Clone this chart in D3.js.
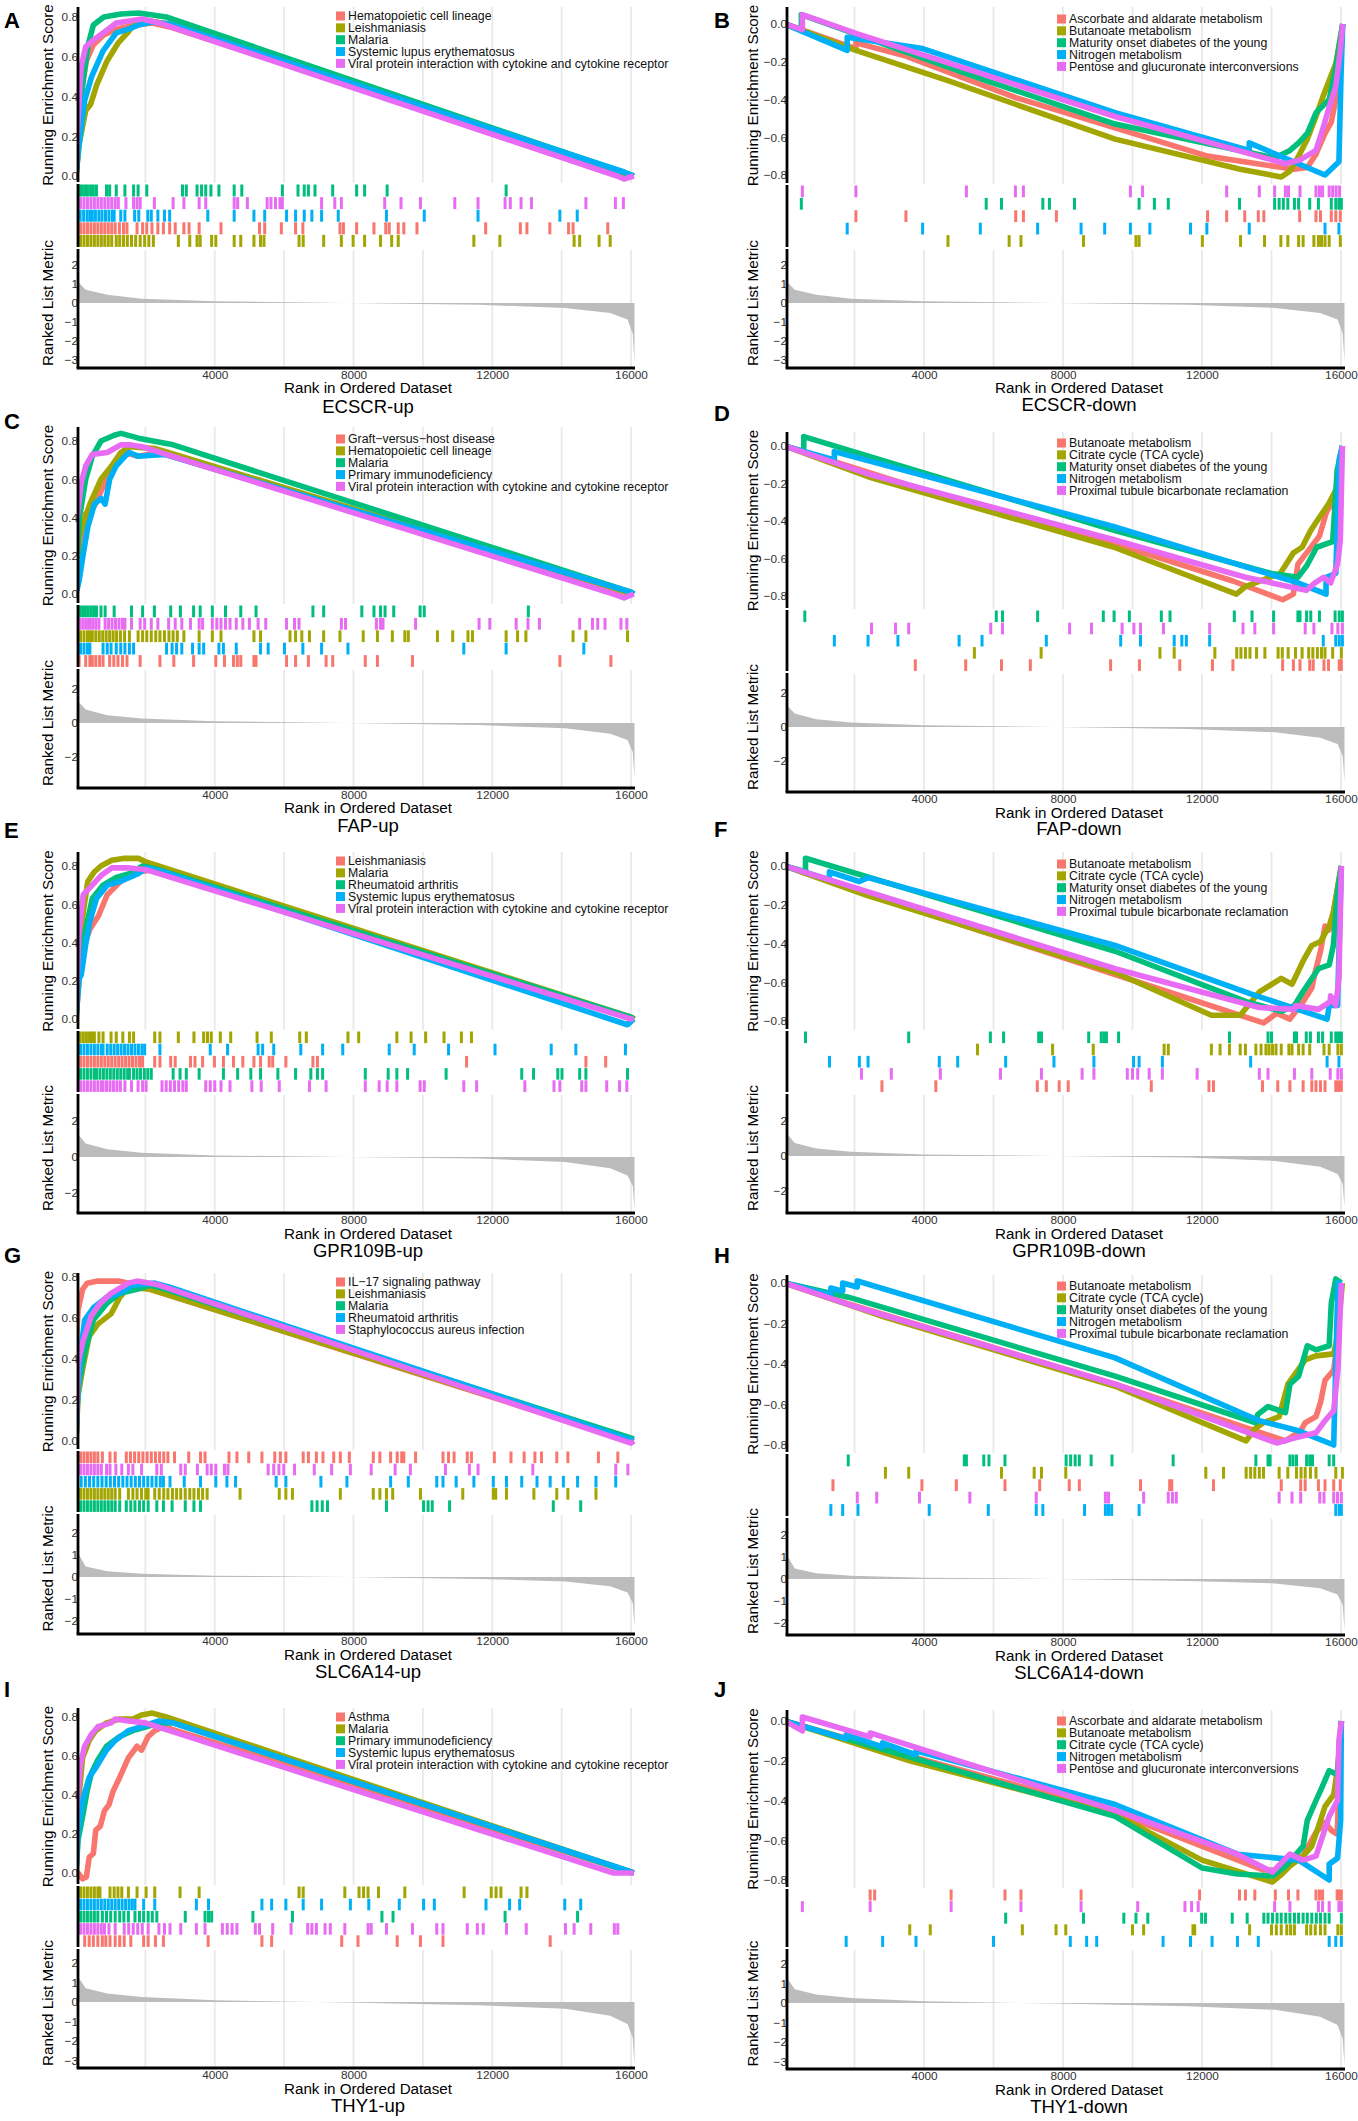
<!DOCTYPE html>
<html>
<head>
<meta charset="utf-8">
<script src="https://cdn.jsdelivr.net/npm/d3@7"></script>
<style>
  body { margin: 0; background: #fff; }
  #viz { width: 1358px; height: 2121px; }
</style>
</head>
<body>
<div id="viz"></div>
<script>
// ggplot default hue palette, one colour per gene set (in legend order)
const hue = ["#F8766D", "#A3A500", "#00BF7D", "#00B0F6", "#E76BF3"];

const rankTicks = [4000, 8000, 12000, 16000];
const gridRanks = [2000, 4000, 6000, 8000, 10000, 12000, 14000, 16000];
const esTicksUp = [0, 0.2, 0.4, 0.6, 0.8];
const esTicksDown = [-0.8, -0.6, -0.4, -0.2, 0];
const metTicksSix = [2, 1, 0, -1, -2, -3];
const metTicksFive = [2, 1, 0, -1, -2];
const metTicksThree = [2, 0, -2];

// ranked list metric (one per gene, shared by its up / down panels)
const metricECSCR = [[0,2.3],[40,1.5],[90,1.05],[280,0.7],[900,0.43],[1900,0.23],[4000,0.09],[7800,0],[11600,-0.09],[14100,-0.26],[15400,-0.52],[15900,-0.87],[16050,-1.6],[16100,-3.1]];
const metricFAP = [[0,2.35],[40,1.6],[90,1.2],[280,0.8],[900,0.46],[1900,0.27],[4000,0.1],[7800,0],[11600,-0.12],[14100,-0.31],[15400,-0.63],[15900,-1.0],[16050,-1.7],[16100,-3.2]];
const metricGPR109B = [[0,2.3],[40,1.6],[90,1.2],[280,0.75],[900,0.43],[1900,0.24],[4000,0.09],[7800,0],[11600,-0.09],[14100,-0.28],[15400,-0.62],[15900,-1.03],[16050,-1.6],[16100,-2.9]];
const metricSLC6A14 = [[0,1.85],[40,1.3],[90,1.0],[280,0.48],[900,0.26],[1900,0.15],[4000,0.06],[7800,0],[11600,-0.09],[14100,-0.2],[15400,-0.42],[15900,-0.7],[16050,-1.18],[16100,-2.3]];
const metricTHY1 = [[0,2.5],[40,1.6],[90,1.2],[280,0.7],[900,0.43],[1900,0.26],[4000,0.09],[7800,-0.03],[11600,-0.17],[14100,-0.35],[15400,-0.7],[15900,-1.13],[16050,-1.83],[16100,-3.2]];

// ---- A: ECSCR-up
const setsA = ["Hematopoietic cell lineage", "Leishmaniasis", "Malaria", "Systemic lupus erythematosus", "Viral protein interaction with cytokine and cytokine receptor"];
const esA = [
  [[0,0],[60,0.2],[150,0.42],[300,0.58],[500,0.66],[800,0.71],[1200,0.74],[1700,0.76],[2200,0.77],[2700,0.75],[16000,0.0],[16080,0]],
  [[0,0],[90,0.16],[280,0.33],[420,0.36],[600,0.46],[900,0.58],[1220,0.67],[1480,0.72],[1660,0.76],[2100,0.78],[2700,0.765],[16080,0]],
  [[0,0],[90,0.3],[220,0.5],[350,0.66],[500,0.76],[800,0.8],[1300,0.815],[1800,0.82],[2600,0.8],[16080,0]],
  [[0,0],[90,0.16],[250,0.38],[450,0.5],[780,0.63],[1160,0.72],[1540,0.74],[1800,0.76],[2200,0.775],[2700,0.765],[15800,0.02],[16080,0]],
  [[0,0],[30,0.2],[90,0.38],[150,0.55],[280,0.65],[470,0.68],[780,0.72],[1160,0.77],[1540,0.78],[1900,0.79],[2400,0.77],[15600,0.0],[15800,-0.015],[16080,0]]
];
const hitsA = [
  [30,130,230,330,430,530,630,730,830,930,1030,1130,1250,1370,1470,1760,1920,2040,2190,2360,2520,2700,2860,3110,3260,3550,4180,5290,5440,5920,6330,6540,7610,7710,8090,8590,8930,9030,9290,9450,9830,11810,12810,13000,13660,14200,14330,15330],
  [30,130,230,330,430,530,630,730,830,930,1030,1160,1260,1370,1480,1600,1720,1850,1980,2100,2230,2950,3280,3490,3580,3910,4030,4560,4750,5130,5320,5420,6430,6550,7140,7650,7990,8320,8780,9100,9290,11470,12220,14360,14520,15080,15400],
  [30,100,170,250,330,420,500,590,880,970,1160,1410,1660,1790,2040,3070,3180,3490,3620,3740,3890,4120,4560,4780,5950,6400,6580,6700,6890,7400,8090,8320,8970,12400],
  [30,120,220,320,400,470,560,660,750,850,950,1050,1100,1290,1410,1690,1810,2070,2170,2360,2550,2700,3800,4560,5130,5440,6070,6330,6580,6800,7080,7560,8950,10040,11590,13950,14450],
  [30,130,230,330,430,530,630,730,830,930,1030,1130,1220,1440,1660,1760,1850,2260,2800,3110,3550,3740,4560,4660,4940,5510,5620,5750,5880,5950,7080,7460,7650,8900,9370,9930,10920,11590,12370,12520,12830,13130,14700,15550,15780]
];

// ---- B: ECSCR-down
const setsB = ["Ascorbate and aldarate metabolism", "Butanoate metabolism", "Maturity onset diabetes of the young", "Nitrogen metabolism", "Pentose and glucuronate interconversions"];
const esB = [
  [[0,0],[2040,-0.13],[2040,-0.1],[3480,-0.17],[6640,-0.39],[12160,-0.7],[14650,-0.77],[15030,-0.76],[15280,-0.69],[15540,-0.58],[15720,-0.52],[15850,-0.4],[15980,-0.14],[16050,0]],
  [[0,0],[2040,-0.14],[4690,-0.3],[9500,-0.61],[13100,-0.77],[14280,-0.81],[14530,-0.78],[14780,-0.7],[15030,-0.61],[15280,-0.49],[15470,-0.39],[15660,-0.3],[15850,-0.21],[16050,0]],
  [[0,0],[470,-0.03],[470,0.05],[5790,-0.3],[9500,-0.53],[14090,-0.71],[14530,-0.67],[14780,-0.63],[15030,-0.58],[15280,-0.47],[15660,-0.4],[15850,-0.23],[16050,0]],
  [[0,0],[1790,-0.14],[1790,-0.07],[3960,-0.13],[9500,-0.47],[13360,-0.67],[13360,-0.63],[15540,-0.8],[15940,-0.73],[16000,-0.28],[16050,0]],
  [[0,0],[500,-0.03],[500,0.05],[2040,-0.05],[9500,-0.49],[14400,-0.74],[14820,-0.72],[15280,-0.67],[15470,-0.56],[15660,-0.44],[15850,-0.33],[15980,-0.14],[16050,0]]
];
const hitsB = [
  [2040,3480,6640,6860,7810,12160,12710,13230,13620,13780,14810,15280,15410,15720,15850,15980],
  [4690,6450,6790,8590,10100,10190,12010,13110,13800,14270,14470,14780,14910,15220,15350,15440,15540,15660,15980],
  [470,5790,6230,7420,7610,8330,10190,10630,11030,13080,14090,14220,14340,14470,14660,14780,15100,15350,15720,15850,15940,16010],
  [1790,3960,5620,7270,8520,9200,9940,10500,11670,12140,13360,15540,15940],
  [500,2040,5220,6630,6860,9940,10290,12710,13650,14090,14400,14490,14820,15280,15380,15470,15660,15760,15860,15960]
];

// ---- C: FAP-up
const setsC = ["Graft\u2212versus\u2212host disease", "Hematopoietic cell lineage", "Malaria", "Primary immunodeficiency", "Viral protein interaction with cytokine and cytokine receptor"];
const esC = [
  [[0,0],[100,0.25],[280,0.42],[530,0.46],[780,0.56],[1030,0.65],[1410,0.74],[1790,0.72],[2400,0.74],[16000,0.0],[16080,0]],
  [[0,0],[90,0.3],[400,0.47],[720,0.6],[1030,0.67],[1290,0.74],[1540,0.77],[2300,0.76],[16080,0]],
  [[0,0],[90,0.39],[280,0.6],[470,0.72],[720,0.8],[1100,0.83],[1300,0.84],[1800,0.815],[2800,0.78],[16000,0.01],[16080,0]],
  [[0,0],[90,0.07],[210,0.21],[340,0.35],[530,0.47],[720,0.5],[840,0.47],[970,0.6],[1160,0.67],[1410,0.72],[1540,0.74],[1800,0.72],[2550,0.73],[16000,0.01],[16080,0]],
  [[0,0],[25,0.39],[150,0.58],[280,0.67],[470,0.73],[900,0.74],[1290,0.78],[1540,0.78],[1900,0.77],[15500,0.0],[15800,-0.02],[16080,0]]
];
const hitsC = [
  [90,280,400,470,570,680,780,970,1090,1210,1340,1470,1850,2420,2820,3390,4030,4280,4540,4650,4750,5130,5190,6070,6330,6700,7210,7400,8340,8690,9700,13950,15420],
  [30,130,230,330,400,470,570,670,770,870,970,1070,1170,1280,1400,1540,1790,1920,2040,2170,2300,2420,2550,2680,2800,2920,3110,3550,3930,4180,5130,5320,6170,6330,6510,6730,7140,7610,8280,8690,9120,9480,9580,10420,10860,11300,11430,12400,12730,12970,14330,14700,15900],
  [30,110,190,270,350,430,510,590,720,840,1100,1600,1920,2260,2730,3010,3390,3580,3930,4310,4750,5190,6830,7140,8240,8590,8780,8910,9160,9920,10040,13040],
  [30,130,230,330,400,780,900,1010,1160,1290,1410,1540,1660,2610,2770,2900,3050,3360,3550,3680,4120,4250,4620,5320,5540,6010,6540,7080,7840,11180,12400,14640],
  [30,120,210,300,390,480,570,660,840,940,1040,1140,1240,1340,1410,1600,1850,1980,2170,2360,2670,2860,3050,3300,3550,3650,3930,4060,4180,4310,4440,4620,4810,5000,5250,5470,6070,6300,6430,7650,7770,8660,8780,8850,9790,11620,11930,12690,13030,13360,14520,14890,15040,15250,15710,15880]
];

// ---- D: FAP-down
const setsD = ["Butanoate metabolism", "Citrate cycle (TCA cycle)", "Maturity onset diabetes of the young", "Nitrogen metabolism", "Proximal tubule bicarbonate reclamation"];
const esD = [
  [[0,0],[3750,-0.22],[9470,-0.52],[12890,-0.72],[14320,-0.82],[14630,-0.79],[14760,-0.63],[15010,-0.57],[15380,-0.48],[15570,-0.36],[15700,-0.31],[15900,-0.35],[16040,0]],
  [[0,0],[2490,-0.17],[9470,-0.54],[12990,-0.79],[13250,-0.75],[14250,-0.68],[14630,-0.57],[14880,-0.54],[15130,-0.45],[15380,-0.38],[15640,-0.31],[15890,-0.22],[16040,0]],
  [[0,0],[540,-0.03],[540,0.05],[6260,-0.27],[9470,-0.45],[14000,-0.68],[14760,-0.7],[15010,-0.64],[15300,-0.54],[15760,-0.51],[15890,-0.13],[16040,0]],
  [[0,0],[1420,-0.075],[1420,-0.03],[9470,-0.43],[14760,-0.73],[15570,-0.79],[15570,-0.7],[15850,-0.68],[15950,-0.07],[16040,0]],
  [[0,0],[2490,-0.155],[9470,-0.5],[13250,-0.7],[15000,-0.77],[15250,-0.73],[15500,-0.7],[15700,-0.73],[15900,-0.63],[15980,-0.5],[16040,0]]
];
const hitsD = [
  [3750,5200,6230,7060,9370,10200,11360,12300,12890,14320,14630,14820,15100,15200,15510,15640,15950,16010],
  [5450,7370,10790,11200,12370,13000,13120,13250,13380,13570,13810,14190,14310,14480,14690,14880,15070,15190,15320,15440,15540,15760,16010],
  [570,6080,6260,7270,9160,9470,9910,10830,11080,12930,13440,14060,14760,14820,15010,15130,15380,15830,15950,16040],
  [1420,2390,3250,5010,5670,7520,9660,10230,11200,11420,11550,12220,15490,15850,15950,16040],
  [2490,3180,3560,5920,6260,8190,8820,9700,10040,10230,10890,12220,13180,13520,14060,14970,15220,15740,15910,16040]
];

// ---- E: GPR109B-up
const setsE = ["Leishmaniasis", "Malaria", "Rheumatoid arthritis", "Systemic lupus erythematosus", "Viral protein interaction with cytokine and cytokine receptor"];
const esE = [
  [[0,0],[150,0.34],[400,0.47],[650,0.54],[900,0.65],[1290,0.72],[1790,0.77],[2300,0.78],[16080,0]],
  [[0,0],[90,0.39],[210,0.56],[340,0.72],[530,0.77],[720,0.8],[1030,0.83],[1400,0.84],[1800,0.84],[2040,0.82],[16000,0.01],[16100,0]],
  [[0,0],[90,0.3],[280,0.47],[470,0.63],[780,0.7],[1160,0.74],[1540,0.76],[1920,0.8],[2400,0.78],[16000,0.01],[16080,0]],
  [[0,0],[90,0.21],[150,0.23],[280,0.39],[400,0.51],[590,0.63],[900,0.7],[1290,0.72],[1540,0.74],[1790,0.76],[2040,0.79],[2500,0.77],[15900,-0.03],[16080,0]],
  [[0,0],[30,0.21],[90,0.46],[210,0.65],[470,0.7],[720,0.75],[1030,0.79],[1540,0.79],[2040,0.78],[16000,0.0],[16080,0]]
];
const hitsE = [
  [30,130,230,330,430,530,630,730,830,930,1030,1130,1230,1330,1430,1530,1630,1730,1830,1920,2270,2420,2730,2860,3300,3430,3650,3990,4250,4540,4810,5130,5320,5570,5670,6050,6830,6960,11260,14700,15270],
  [30,120,210,300,390,470,530,660,780,1010,1160,1350,1540,1660,2270,2420,2950,3400,3680,3790,3900,4160,4460,5220,5630,6450,6640,7840,8150,9250,9660,10080,10610,11110,11400],
  [30,130,230,330,430,530,590,690,790,890,990,1090,1190,1290,1390,1490,1540,1660,1760,1860,1970,2070,2170,2800,3000,3180,3550,4250,4660,5040,5320,5820,6330,6770,6960,7110,8340,9000,9250,9560,10670,12850,13190,13890,14010,14520,14700,15900],
  [30,130,230,330,430,530,630,730,780,900,1000,1100,1200,1300,1400,1500,1600,1700,1800,1900,1980,2420,3870,4370,5250,5380,5700,6480,7110,7690,9030,9750,10740,12080,13700,14410,15840],
  [30,130,230,330,430,530,630,730,780,880,980,1080,1180,1280,1410,1600,1790,1920,2020,2480,2600,2720,2840,2960,3080,3180,3740,3870,4000,4180,4440,5070,5340,5860,6730,7210,8340,8740,8970,9250,9920,10040,11180,11550,12940,13780,13950,14580,14700,15300,15670,15880]
];

// ---- F: GPR109B-down
const setsF = ["Butanoate metabolism", "Citrate cycle (TCA cycle)", "Maturity onset diabetes of the young", "Nitrogen metabolism", "Proximal tubule bicarbonate reclamation"];
const esF = [
  [[0,0],[2790,-0.17],[9500,-0.56],[13770,-0.81],[14150,-0.76],[14530,-0.79],[14910,-0.7],[15160,-0.63],[15280,-0.53],[15410,-0.44],[15540,-0.31],[15660,-0.33],[15780,-0.24],[16010,0]],
  [[0,0],[2330,-0.15],[9500,-0.55],[12270,-0.77],[13100,-0.77],[13650,-0.65],[14280,-0.58],[14590,-0.61],[14910,-0.49],[15160,-0.41],[15410,-0.39],[15660,-0.31],[15780,-0.24],[16010,0]],
  [[0,0],[590,-0.03],[590,0.04],[9500,-0.44],[13270,-0.7],[14280,-0.75],[14660,-0.72],[14900,-0.65],[15350,-0.53],[15660,-0.51],[15780,-0.41],[15900,-0.13],[16010,0]],
  [[0,0],[1280,-0.07],[1280,-0.03],[2140,-0.08],[2390,-0.06],[9500,-0.41],[13400,-0.66],[15600,-0.79],[15660,-0.72],[15900,-0.72],[16010,0]],
  [[0,0],[9500,-0.53],[13650,-0.73],[14660,-0.74],[14700,-0.72],[15350,-0.74],[15690,-0.7],[15700,-0.67],[15850,-0.72],[15940,-0.58],[16010,0]]
];
const hitsF = [
  [2790,4340,7260,7520,7890,8150,10540,12200,12330,13740,14180,14530,14910,15160,15280,15410,15540,15850,15930,16010],
  [5540,7700,8870,10910,11030,12270,12520,12790,13100,13250,13550,13700,13840,13930,14030,14130,14280,14500,14590,14780,14910,15100,15510,15660,15910,16010],
  [590,3560,5910,6290,7300,7380,8740,9100,9180,9250,9600,12790,13900,14000,14660,14720,15000,15120,15350,15470,15720,15850,15930,16010],
  [1280,2140,2390,4440,4970,6350,7740,8890,10030,10190,10860,13400,15600,15940],
  [2200,3060,4470,6200,7380,8550,8890,9850,10000,10150,10480,10860,11860,13650,13900,14660,15160,15690,15910,16010]
];

// ---- G: SLC6A14-up
const setsG = ["IL\u221217 signaling pathway", "Leishmaniasis", "Malaria", "Rheumatoid arthritis", "Staphylococcus aureus infection"];
const esG = [
  [[0,0],[25,0.51],[60,0.64],[190,0.74],[320,0.77],[630,0.78],[1260,0.78],[1510,0.77],[2140,0.74],[16000,0.0],[16080,0]],
  [[0,0],[60,0.22],[190,0.35],[380,0.51],[630,0.57],[1010,0.62],[1260,0.7],[1510,0.75],[2140,0.74],[16080,0]],
  [[0,0],[60,0.26],[250,0.43],[500,0.59],[880,0.67],[1260,0.72],[1760,0.74],[2140,0.76],[2600,0.74],[16080,0.01]],
  [[0,0],[25,0.15],[130,0.43],[250,0.59],[500,0.65],[880,0.7],[1260,0.72],[1640,0.76],[2270,0.77],[2700,0.75],[16080,0.0]],
  [[0,0],[60,0.38],[190,0.48],[440,0.61],[690,0.67],[1010,0.72],[1510,0.77],[1760,0.78],[2300,0.765],[16000,-0.01],[16080,0]]
];
const hitsG = [
  [30,130,230,330,430,530,630,760,980,1130,1450,1570,1690,1810,1930,2050,2170,2290,2410,2530,2650,2840,3250,3590,3720,4410,4640,4980,5360,5730,5890,6050,6550,6700,6930,7120,7430,7620,7880,8570,8760,9070,9260,9390,9450,9790,10580,10740,10900,11280,11400,12060,12540,12920,13230,13420,13860,14180,15060,15620],
  [30,130,230,330,430,530,630,730,830,930,1030,1130,1260,1510,1640,1760,1890,2010,2080,2270,2400,2530,2650,2780,2900,3020,3150,3280,3400,3530,3650,3780,4730,5860,6050,6240,7620,8570,8760,8950,9130,9930,11150,12030,12100,12410,13200,13860,14180,14990],
  [30,130,230,330,430,530,630,730,830,930,1030,1130,1260,1450,1580,1700,1830,1950,2080,2330,2520,2770,3150,3400,3590,6800,6950,7100,7250,8950,10020,10150,10270,10770,13760,14550],
  [30,150,270,390,510,630,750,870,990,1110,1230,1350,1470,1590,1710,1830,1950,2070,2190,2310,2430,2520,2710,3120,3590,4030,4350,4600,5770,6050,7060,7810,9070,9580,10400,10580,10960,11470,12030,12410,12850,13290,13670,14050,14460,14990,15560],
  [30,130,230,330,430,530,630,730,880,980,1150,1320,1510,1640,1890,2330,2460,3020,3150,3500,3780,3900,4030,4280,4380,5540,5700,5850,5990,6300,6870,7370,7910,8510,9200,9640,10650,11340,11590,13170,15560,15910]
];

// ---- H: SLC6A14-down
const setsH = ["Butanoate metabolism", "Citrate cycle (TCA cycle)", "Maturity onset diabetes of the young", "Nitrogen metabolism", "Proximal tubule bicarbonate reclamation"];
const esH = [
  [[0,0],[1380,-0.08],[9500,-0.5],[14400,-0.78],[14840,-0.73],[14970,-0.69],[15280,-0.66],[15410,-0.59],[15540,-0.48],[15790,-0.43],[15900,-0.28],[16000,0]],
  [[0,0],[2890,-0.17],[9500,-0.51],[13270,-0.78],[13520,-0.72],[13770,-0.69],[14220,-0.66],[14470,-0.5],[14970,-0.38],[15280,-0.36],[15790,-0.35],[15900,-0.26],[16040,0]],
  [[0,0],[1820,-0.07],[9500,-0.46],[13550,-0.69],[13600,-0.65],[13900,-0.61],[14400,-0.64],[14530,-0.5],[14780,-0.46],[15030,-0.31],[15280,-0.33],[15660,-0.31],[15720,-0.1],[15850,0.02],[16010,0]],
  [[0,0],[1320,-0.06],[1320,-0.025],[1660,-0.04],[1660,0.0],[2080,-0.02],[2080,0.01],[9500,-0.37],[13650,-0.68],[14780,-0.73],[15790,-0.8],[15910,0.0],[16010,0]],
  [[0,0],[2080,-0.12],[9500,-0.5],[14150,-0.79],[14780,-0.76],[15280,-0.74],[15540,-0.68],[15790,-0.63],[15910,-0.43],[16010,0]]
];
const hitsH = [
  [1380,3940,4930,6330,7330,8180,8470,10230,11070,11130,12330,14280,14840,14970,15350,15540,15790,15980],
  [2890,3560,6230,7170,7380,8080,12110,12620,13270,13400,13520,13650,13770,14220,14470,14720,14850,14970,15120,15280,15850,16040],
  [1820,5160,5220,5720,5870,6330,8090,8220,8350,8470,8810,9410,11170,13550,13900,13960,14530,14620,14720,15010,15100,15180,15660,15790],
  [1320,1660,2100,4150,5850,7230,7420,8620,9220,9310,9400,10190,15850,15950,16010],
  [2080,2640,3870,5320,7230,9220,9310,10320,11030,11150,11260,14220,14590,14840,15390,15510,15790,15900,16010]
];

// ---- I: THY1-up
const setsI = ["Asthma", "Malaria", "Primary immunodeficiency", "Systemic lupus erythematosus", "Viral protein interaction with cytokine and cytokine receptor"];
const esI = [
  [[0,0],[60,0.0],[190,-0.03],[300,-0.02],[380,0.08],[500,0.1],[570,0.22],[700,0.24],[820,0.32],[950,0.35],[1070,0.42],[1260,0.49],[1510,0.59],[1760,0.65],[1890,0.63],[2080,0.7],[2270,0.73],[2520,0.75],[16080,0]],
  [[0,0],[60,0.34],[190,0.59],[380,0.68],[570,0.73],[880,0.77],[1260,0.79],[1640,0.79],[1890,0.81],[2200,0.82],[2600,0.8],[16080,0]],
  [[0,0],[60,0.17],[190,0.29],[320,0.42],[440,0.51],[630,0.58],[880,0.65],[1260,0.7],[1640,0.73],[2020,0.75],[2400,0.77],[2800,0.77],[16080,0]],
  [[0,0],[60,0.22],[190,0.37],[380,0.49],[570,0.54],[880,0.63],[1130,0.68],[1510,0.73],[1890,0.75],[2390,0.78],[2800,0.77],[15600,0.03],[16080,0]],
  [[0,0],[25,0.34],[130,0.56],[250,0.65],[440,0.71],[630,0.75],[1010,0.77],[1130,0.79],[1510,0.78],[2000,0.77],[15500,0.0],[16080,0]]
];
const hitsI = [
  [250,380,500,630,760,860,980,1130,1260,1390,1580,1950,2080,2290,2520,3810,5360,5640,7660,8130,9260,9930,10580,13670],
  [30,130,230,330,430,530,630,690,980,1100,1210,1320,1510,1760,2020,2270,3000,3550,6430,6550,7750,8160,8290,8420,8720,9480,11190,11970,12110,12250,12830,13000],
  [30,130,230,330,430,530,630,760,880,1000,1130,1260,1380,1510,1700,1830,1950,2080,2200,2330,3150,3720,3820,3910,5100,6240,8820,9140,12370,14460],
  [30,130,230,330,430,530,630,730,830,930,1030,1130,1230,1330,1430,1530,1620,1700,1950,2270,3470,3820,5360,5640,6050,6550,7080,7910,8440,9320,10020,10330,11820,12500,12790,14090,14550],
  [30,130,230,330,430,530,630,730,820,950,1130,1390,1520,1650,1780,1910,2080,2390,2550,2710,3020,3470,3720,4220,4360,4500,4640,5170,5290,5670,6200,6680,6800,6930,7180,7330,7750,8420,8510,8950,9700,10400,10580,11280,11570,11740,12410,12980,14110,14360,14840,15520,15620]
];

// ---- J: THY1-down
const setsJ = ["Ascorbate and aldarate metabolism", "Butanoate metabolism", "Citrate cycle (TCA cycle)", "Nitrogen metabolism", "Pentose and glucuronate interconversions"];
const esJ = [
  [[0,0],[2450,-0.12],[9500,-0.46],[13770,-0.75],[14150,-0.75],[14530,-0.7],[14900,-0.68],[15280,-0.56],[15540,-0.51],[15720,-0.55],[15890,-0.57],[16010,0]],
  [[0,0],[3590,-0.2],[9500,-0.47],[12000,-0.7],[14030,-0.81],[14300,-0.77],[14530,-0.73],[14910,-0.68],[15160,-0.63],[15410,-0.5],[15540,-0.43],[15790,-0.37],[15910,-0.23],[16010,0]],
  [[0,0],[9500,-0.48],[12010,-0.74],[13020,-0.77],[14030,-0.78],[14400,-0.73],[14660,-0.68],[14910,-0.63],[15030,-0.5],[15280,-0.4],[15410,-0.35],[15660,-0.25],[15900,-0.27],[16010,0]],
  [[0,0],[1760,-0.09],[1760,-0.07],[2810,-0.13],[2810,-0.11],[3770,-0.17],[3770,-0.15],[9500,-0.42],[13020,-0.67],[14780,-0.7],[15660,-0.8],[15660,-0.72],[15900,-0.69],[15990,-0.5],[16010,0]],
  [[0,0],[500,-0.05],[500,0.02],[2450,-0.08],[2450,-0.06],[9500,-0.45],[13020,-0.67],[14030,-0.76],[14530,-0.67],[14900,-0.7],[15280,-0.68],[15660,-0.48],[15900,-0.4],[15940,-0.1],[16010,0]]
];
const hitsJ = [
  [2450,2580,4780,6330,6790,8520,11930,13080,13250,13520,14110,14490,14760,15280,15380,15470,15890,15950,16010],
  [3590,4180,6830,7800,8080,10000,10320,11740,11790,13370,14000,14140,14280,14440,14550,14660,15010,15130,15260,15410,15540,15910,16010],
  [6350,8590,9750,10100,10440,11990,12100,12870,13300,13780,13900,14030,14160,14280,14410,14530,14660,14780,14910,15030,15160,15290,15410,15540,15660,16010],
  [1760,2810,3770,6000,8210,8680,8970,10880,11670,12290,13020,13620,15660,15850,16010],
  [500,2450,4780,6790,8520,10150,11510,11700,11890,14090,14530,15350,15470,15660,15940,16010]
];

// ---- page geometry (pixels)
const cols = [
  { axisX: 78, x0: 76, x1: 631, letterX: 4, yTitleX: 48, legendX: 336, centerX: 368 },
  { axisX: 787, x0: 785, x1: 1341, letterX: 714, yTitleX: 753, legendX: 1057, centerX: 1079 }
];

const panels = [
  { letter: "A", title: "ECSCR-up", col: 0, sets: setsA, es: esA, hits: hitsA, metric: metricECSCR, esTicks: esTicksUp, metTicks: metTicksSix,
    top: 7, esBot: 183, hitBot: 248, axisY: 368, esRef: [[0.8, 17], [0, 176]], metRef: [[2, 265], [0, 303]],
    rankY: 388, titleY: 406, letterY: 28, legendY: 16, rows: [2, 4, 3, 0, 1] },
  { letter: "B", title: "ECSCR-down", col: 1, sets: setsB, es: esB, hits: hitsB, metric: metricECSCR, esTicks: esTicksDown, metTicks: metTicksSix,
    top: 7, esBot: 184, hitBot: 248, axisY: 368, esRef: [[0, 24], [-0.8, 175]], metRef: [[2, 265], [0, 303]],
    rankY: 388, titleY: 404, letterY: 28, legendY: 19, rows: [4, 2, 0, 3, 1] },
  { letter: "C", title: "FAP-up", col: 0, sets: setsC, es: esC, hits: hitsC, metric: metricFAP, esTicks: esTicksUp, metTicks: metTicksThree,
    top: 427, esBot: 604, hitBot: 668, axisY: 788, esRef: [[0.8, 441], [0, 594]], metRef: [[2, 689], [0, 723]],
    rankY: 808, titleY: 825, letterY: 429, legendY: 439, rows: [2, 4, 1, 3, 0] },
  { letter: "D", title: "FAP-down", col: 1, sets: setsD, es: esD, hits: hitsD, metric: metricFAP, esTicks: esTicksDown, metTicks: metTicksThree,
    top: 432, esBot: 609, hitBot: 672, axisY: 792, esRef: [[0, 446], [-0.8, 596]], metRef: [[2, 693], [0, 727]],
    rankY: 813, titleY: 828, letterY: 421, legendY: 443, rows: [2, 4, 3, 1, 0] },
  { letter: "E", title: "GPR109B-up", col: 0, sets: setsE, es: esE, hits: hitsE, metric: metricGPR109B, esTicks: esTicksUp, metTicks: metTicksThree,
    top: 852, esBot: 1030, hitBot: 1093, axisY: 1213, esRef: [[0.8, 866], [0, 1019]], metRef: [[2, 1121], [0, 1157]],
    rankY: 1234, titleY: 1250, letterY: 838, legendY: 861, rows: [1, 3, 0, 2, 4] },
  { letter: "F", title: "GPR109B-down", col: 1, sets: setsF, es: esF, hits: hitsF, metric: metricGPR109B, esTicks: esTicksDown, metTicks: metTicksThree,
    top: 852, esBot: 1030, hitBot: 1093, axisY: 1213, esRef: [[0, 866], [-0.8, 1021]], metRef: [[2, 1121], [0, 1156]],
    rankY: 1234, titleY: 1250, letterY: 837, legendY: 864, rows: [2, 1, 3, 4, 0] },
  { letter: "G", title: "SLC6A14-up", col: 0, sets: setsG, es: esG, hits: hitsG, metric: metricSLC6A14, esTicks: esTicksUp, metTicks: metTicksFive,
    top: 1273, esBot: 1450, hitBot: 1513, axisY: 1634, esRef: [[0.8, 1277], [0, 1441]], metRef: [[2, 1533], [0, 1577]],
    rankY: 1655, titleY: 1671, letterY: 1263, legendY: 1282, rows: [0, 4, 3, 1, 2] },
  { letter: "H", title: "SLC6A14-down", col: 1, sets: setsH, es: esH, hits: hitsH, metric: metricSLC6A14, esTicks: esTicksDown, metTicks: metTicksFive,
    top: 1275, esBot: 1453, hitBot: 1517, axisY: 1635, esRef: [[0, 1283], [-0.8, 1445]], metRef: [[2, 1535], [0, 1579]],
    rankY: 1656, titleY: 1672, letterY: 1263, legendY: 1286, rows: [2, 1, 0, 4, 3] },
  { letter: "I", title: "THY1-up", col: 0, sets: setsI, es: esI, hits: hitsI, metric: metricTHY1, esTicks: esTicksUp, metTicks: metTicksSix,
    top: 1708, esBot: 1885, hitBot: 1948, axisY: 2068, esRef: [[0.8, 1717], [0, 1873]], metRef: [[2, 1963], [0, 2002]],
    rankY: 2089, titleY: 2105, letterY: 1697, legendY: 1717, rows: [1, 3, 2, 4, 0] },
  { letter: "J", title: "THY1-down", col: 1, sets: setsJ, es: esJ, hits: hitsJ, metric: metricTHY1, esTicks: esTicksDown, metTicks: metTicksSix,
    top: 1710, esBot: 1888, hitBot: 1948, axisY: 2069, esRef: [[0, 1721], [-0.8, 1880]], metRef: [[2, 1964], [0, 2003]],
    rankY: 2090, titleY: 2106, letterY: 1697, legendY: 1721, rows: [0, 4, 2, 1, 3] }
];

const FONT = '"Liberation Sans", Arial, Helvetica, sans-serif';

const svg = d3.select("#viz").append("svg")
  .attr("width", 1358).attr("height", 2121)
  .style("background", "#fff")
  .style("font-family", FONT);

function drawPanel(p) {
  const c = cols[p.col];
  const x = d3.scaleLinear().domain([0, 16000]).range([c.x0, c.x1]);
  const yEs = d3.scaleLinear().domain([p.esRef[0][0], p.esRef[1][0]]).range([p.esRef[0][1], p.esRef[1][1]]);
  const yMet = d3.scaleLinear().domain([p.metRef[0][0], p.metRef[1][0]]).range([p.metRef[0][1], p.metRef[1][1]]);
  const g = svg.append("g");
  // keep the marks from poking left of the y axis
  const clipId = "clip" + p.letter;
  g.append("clipPath").attr("id", clipId).append("rect")
    .attr("x", c.axisX).attr("y", 0).attr("width", 700).attr("height", 2121);

  // vertical grid lines (running score + metric panels)
  const grid = g.append("g").attr("stroke", "#e9e9e9").attr("stroke-width", 1.8);
  grid.selectAll("line.es").data(gridRanks).join("line").attr("class", "es")
    .attr("x1", d => x(d)).attr("x2", d => x(d)).attr("y1", p.top).attr("y2", p.esBot);
  grid.selectAll("line.met").data(gridRanks).join("line").attr("class", "met")
    .attr("x1", d => x(d)).attr("x2", d => x(d)).attr("y1", p.hitBot + 2).attr("y2", p.axisY);

  const marks = g.append("g").attr("clip-path", `url(#${clipId})`);

  // ranked list metric
  const area = d3.area().x(d => x(d[0])).y0(yMet(0)).y1(d => yMet(d[1]));
  marks.append("path").datum(p.metric).attr("d", area).attr("fill", "#bcbcbc");

  // hit ticks, one row per gene set
  const rowH = (p.hitBot - p.esBot - 2) / 5;
  p.rows.forEach((si, r) => {
    marks.append("g").selectAll("rect").data(p.hits[si]).join("rect")
      .attr("x", d => x(d) - 1.5).attr("width", 3)
      .attr("y", p.esBot + 1.5 + r * rowH).attr("height", rowH - 0.6)
      .attr("fill", hue[si]);
  });

  // running enrichment score
  const line = d3.line().x(d => x(d[0])).y(d => yEs(d[1]));
  marks.append("g").selectAll("path").data(p.es).join("path")
    .attr("d", line).attr("fill", "none")
    .attr("stroke", (d, i) => hue[i]).attr("stroke-width", 5.6)
    .attr("stroke-linejoin", "round");

  // tick labels
  const styleTicks = sel => {
    sel.select(".domain").remove();
    sel.selectAll("text").attr("fill", "#333").style("font-size", "11.8px").style("font-family", FONT);
  };
  g.append("g").attr("transform", `translate(${c.axisX},0)`)
    .call(d3.axisLeft(yEs).tickValues(p.esTicks).tickSize(0).tickPadding(0).tickFormat(d3.format(".1f")))
    .call(styleTicks);
  g.append("g").attr("transform", `translate(${c.axisX},0)`)
    .call(d3.axisLeft(yMet).tickValues(p.metTicks).tickSize(0).tickPadding(0).tickFormat(d3.format("d")))
    .call(styleTicks);
  g.append("g").attr("transform", `translate(0,${p.axisY})`)
    .call(d3.axisBottom(x).tickValues(rankTicks).tickSize(0).tickPadding(3).tickFormat(d3.format("d")))
    .call(styleTicks);

  // black axis lines (broken between the three stacked panels)
  const ax = g.append("g").attr("stroke", "#000").attr("stroke-width", 2.8);
  [[p.top, p.esBot - 1], [p.esBot + 1, p.hitBot - 1], [p.hitBot + 1, p.axisY]].forEach(([a, b]) => {
    ax.append("line").attr("x1", c.axisX).attr("x2", c.axisX).attr("y1", a).attr("y2", b);
  });
  ax.append("line").attr("x1", c.axisX - 1.4).attr("x2", c.x1 + 4).attr("y1", p.axisY).attr("y2", p.axisY);

  // legend
  const leg = g.append("g");
  p.sets.forEach((name, i) => {
    const ly = p.legendY + i * 11.85;
    leg.append("rect").attr("x", c.legendX).attr("y", ly - 4.5).attr("width", 9).attr("height", 9).attr("fill", hue[i]);
    leg.append("text").attr("x", c.legendX + 12).attr("y", ly).attr("dy", "0.36em")
      .style("font-size", "12.3px").attr("fill", "#111").text(name);
  });

  // axis titles
  g.append("text")
    .attr("transform", `translate(${c.yTitleX},${(p.top + p.esBot) / 2}) rotate(-90)`)
    .attr("text-anchor", "middle").attr("dy", "0.36em")
    .style("font-size", "15.2px").text("Running Enrichment Score");
  g.append("text")
    .attr("transform", `translate(${c.yTitleX},${(p.hitBot + p.axisY) / 2 - 5}) rotate(-90)`)
    .attr("text-anchor", "middle").attr("dy", "0.36em")
    .style("font-size", "15.2px").text("Ranked List Metric");
  g.append("text").attr("x", c.centerX).attr("y", p.rankY).attr("dy", "0.36em")
    .attr("text-anchor", "middle").style("font-size", "15.2px").text("Rank in Ordered Dataset");
  g.append("text").attr("x", c.centerX).attr("y", p.titleY).attr("dy", "0.36em")
    .attr("text-anchor", "middle").style("font-size", "18.5px").text(p.title);

  // panel letter
  g.append("text").attr("x", c.letterX).attr("y", p.letterY)
    .style("font-size", "22px").style("font-weight", "bold").text(p.letter);
}

panels.forEach(drawPanel);
</script>
</body>
</html>
